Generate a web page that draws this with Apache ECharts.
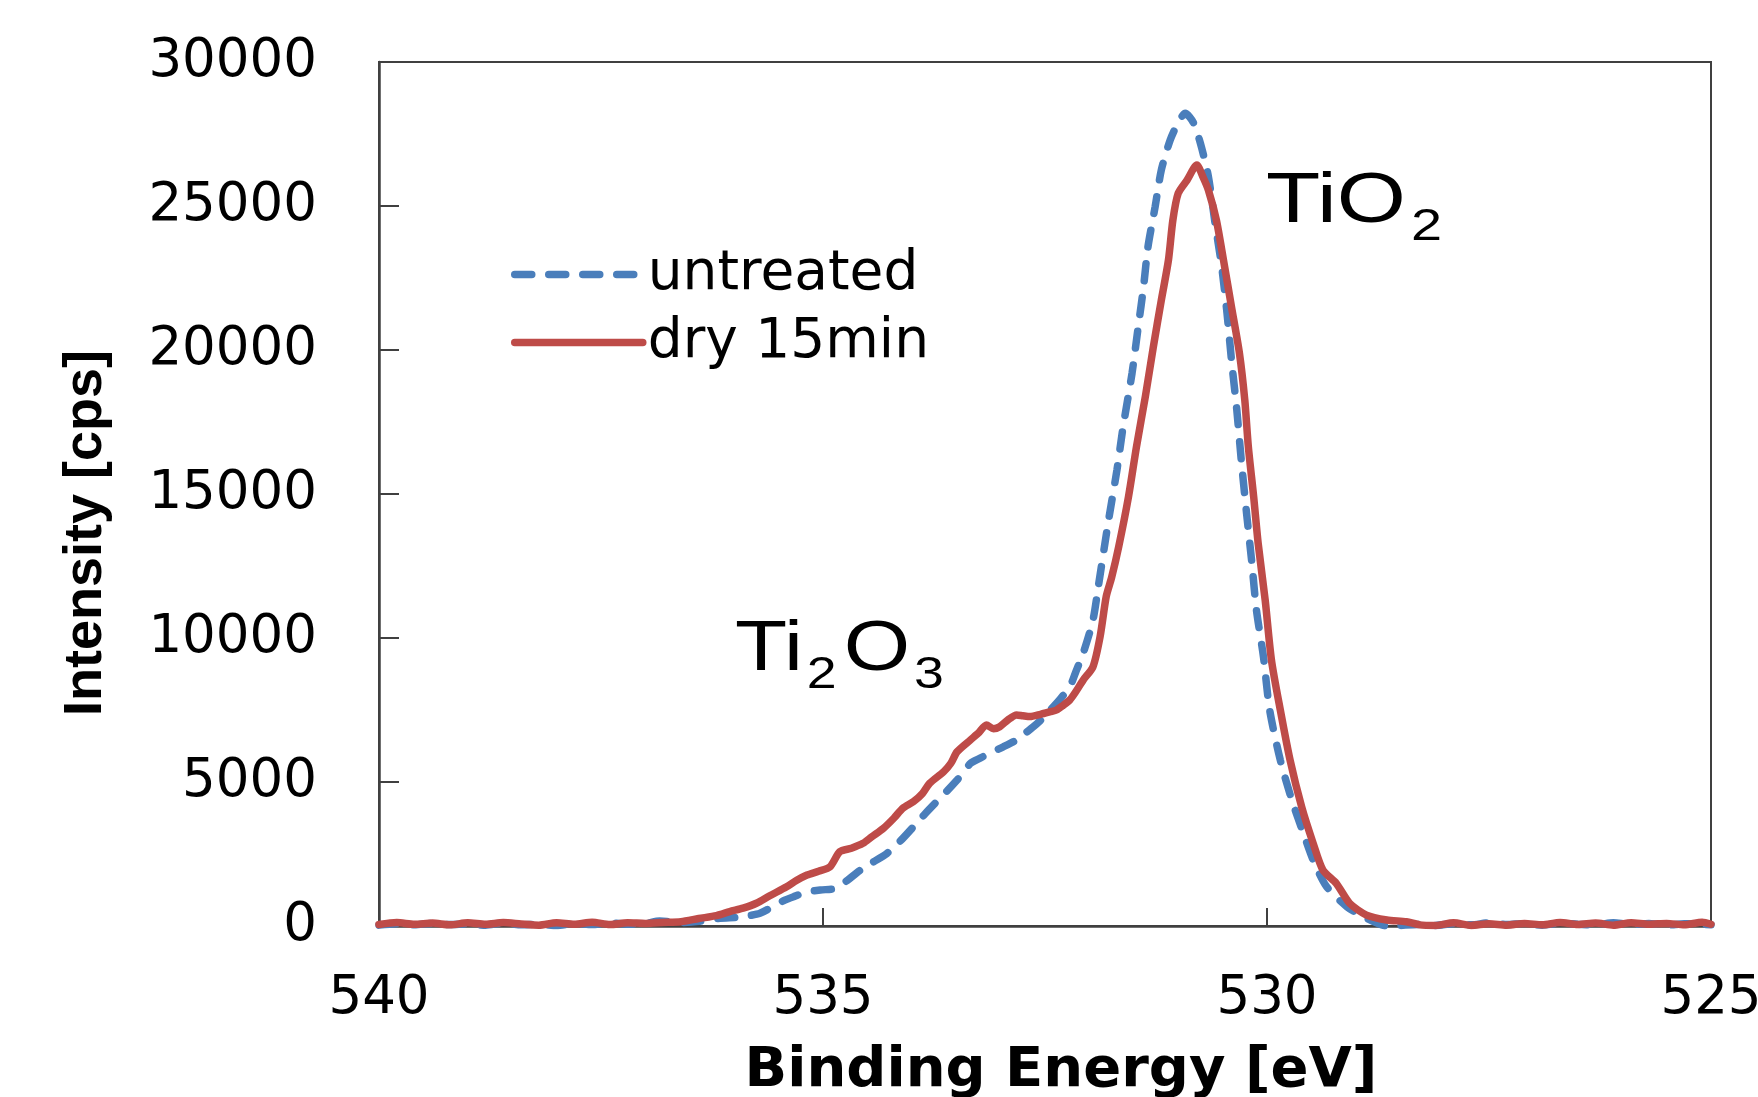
<!DOCTYPE html>
<html>
<head>
<meta charset="utf-8">
<title>O 1s spectrum</title>
<script src="https://cdn.jsdelivr.net/npm/echarts@6.0.0/dist/echarts.min.js"></script>
<style>
	html, body { margin: 0; padding: 0; background: #fff; }
	#chart { width: 1758px; height: 1097px; }
</style>
</head>
<body>
<div id="chart"></div>
<script>
// binding energy [eV] / intensity [cps]
const untreatedEnergy = [
	540.0, 539.8, 539.6, 539.4, 539.2, 539.0, 538.8, 538.6, 538.4, 538.2,
	538.0, 537.8, 537.6, 537.4, 537.2, 537.0, 536.84, 536.6, 536.4, 536.16,
	535.97, 535.85, 535.71, 535.55, 535.43, 535.33, 535.18, 535.03, 534.85, 534.72,
	534.58, 534.43, 534.28, 534.13, 533.98, 533.85, 533.72, 533.6, 533.49, 533.4,
	533.34, 533.23, 533.12, 532.97, 532.82, 532.72, 532.63, 532.53, 532.44, 532.33,
	532.22, 532.15, 532.07, 531.96, 531.9, 531.79, 531.69, 531.62, 531.52, 531.45,
	531.39, 531.34, 531.26, 531.19, 531.09, 531.0, 530.92, 530.83, 530.75, 530.66,
	530.59, 530.51, 530.45, 530.4, 530.34, 530.29, 530.23, 530.17, 530.12, 530.04,
	529.97, 529.85, 529.72, 529.59, 529.48, 529.33, 529.1, 528.88, 528.65, 528.5,
	528.3, 528.1, 527.9, 527.7, 527.5, 527.3, 527.1, 526.9, 526.7, 526.5,
	526.3, 526.1, 525.9, 525.7, 525.5, 525.3, 525.0
];
const untreatedCounts = [
	30, 80, 40, 90, 50, 70, 30, 100, 40, 60,
	20, 90, 50, 110, 60, 90, 170, 120, 160, 270,
	300, 350, 440, 700, 900, 1020, 1180, 1250, 1310, 1600,
	1940, 2230, 2520, 2950, 3450, 3900, 4320, 4700, 5070, 5400,
	5650, 5830, 6000, 6220, 6460, 6700, 6920, 7200, 7500, 7880,
	8310, 8850, 9470, 10620, 11780, 13980, 15830, 17340, 19190, 20810,
	22200, 23590, 24970, 26250, 27290, 27900, 28220, 27900, 27180, 26020,
	24510, 22890, 21270, 19650, 17920, 16180, 14330, 12590, 11000, 9350,
	7500, 5760, 4370, 3220, 2290, 1370, 670, 270, 0, 20,
	50, 20, 80, 40, 110, 50, 90, 30, 100, 60,
	40, 110, 50, 90, 30, 80, 40
];

const dryEnergy = [
	540.0, 539.8, 539.6, 539.4, 539.2, 539.0, 538.8, 538.6, 538.4, 538.2,
	538.0, 537.8, 537.6, 537.4, 537.2, 537.0, 536.8, 536.6, 536.4, 536.2,
	536.05, 535.9, 535.75, 535.6, 535.41, 535.3, 535.18, 535.05, 534.92, 534.81,
	534.68, 534.55, 534.45, 534.32, 534.2, 534.1, 533.98, 533.88, 533.8, 533.64,
	533.56, 533.49, 533.34, 533.25, 533.16, 533.08, 533.01, 532.92, 532.82, 532.75,
	532.67, 532.55, 532.44, 532.37, 532.3, 532.22, 532.15, 532.07, 531.96, 531.88,
	531.81, 531.75, 531.67, 531.56, 531.47, 531.37, 531.28, 531.19, 531.11, 531.06,
	531.0, 530.9, 530.79, 530.72, 530.66, 530.57, 530.49, 530.4, 530.31, 530.25,
	530.21, 530.15, 530.1, 530.02, 529.95, 529.85, 529.74, 529.61, 529.48, 529.37,
	529.22, 529.07, 528.88, 528.65, 528.43, 528.28, 528.1, 527.9, 527.7, 527.5,
	527.3, 527.1, 526.9, 526.7, 526.5, 526.3, 526.1, 525.9, 525.7, 525.5,
	525.3, 525.1, 525.0
];
const dryCounts = [
	50, 120, 60, 100, 40, 110, 60, 120, 70, 30,
	110, 60, 130, 50, 110, 90, 120, 150, 260, 360,
	500, 620, 790, 1050, 1360, 1580, 1770, 1900, 2060, 2580,
	2700, 2870, 3100, 3390, 3750, 4090, 4320, 4600, 4950, 5360,
	5650, 6050, 6460, 6700, 6980, 6850, 6920, 7150, 7330, 7300,
	7270, 7350, 7440, 7500, 7650, 7850, 8150, 8540, 9000, 10040,
	11450, 12100, 13170, 14900, 16640, 18380, 20110, 21730, 23120, 24510,
	25440, 25900, 26420, 26000, 25550, 24510, 23120, 21500, 19880, 18260,
	16640, 14900, 13300, 11300, 9240, 7500, 5760, 4140, 2870, 1940,
	1480, 790, 380, 210, 150, 40, 20, 110, 20, 80,
	30, 90, 40, 120, 50, 100, 30, 110, 60, 90,
	40, 130, 60
];

const seriesNames = ['untreated', 'dry 15min'];

function pairs(xs, ys) {
	return xs.map(function (x, i) { return [x, ys[i]]; });
}

const chart = echarts.init(document.getElementById('chart'));
const axisColor = '#404040';
const option = {
	animation: false,
	backgroundColor: '#fff',
	grid: {
		left: 379,
		right: 47,
		top: 62,
		bottom: 171,
		show: true,
		borderColor: axisColor,
		borderWidth: 2,
		outerBoundsMode: 'none'
	},
	legend: {
		data: seriesNames,
		orient: 'vertical',
		left: 506,
		top: 242,
		itemWidth: 128,
		itemHeight: 14,
		itemGap: 13,
		itemStyle: { opacity: 0 }, // no symbol in the key
		lineStyle: { width: 7.5, cap: 'round' },
		textStyle: {
			fontFamily: 'DejaVu Sans',
			fontSize: 55,
			color: '#000'
		}
	},
	xAxis: {
		type: 'value',
		min: 525,
		max: 540,
		interval: 5,
		inverse: true,
		name: 'Binding Energy [eV]',
		nameLocation: 'middle',
		nameGap: 117,
		nameTextStyle: {
			fontFamily: 'DejaVu Sans',
			fontWeight: 'bold',
			fontSize: 56,
			color: '#000',
			padding: [0, 0, 0, 32]
		},
		axisLine: { lineStyle: { color: axisColor, width: 2.5 } },
		axisTick: { inside: true, length: 18, lineStyle: { color: axisColor, width: 2 } },
		axisLabel: {
			margin: 47,
			fontFamily: 'DejaVu Sans',
			fontSize: 53,
			color: '#000'
		},
		splitLine: { show: false }
	},
	yAxis: {
		type: 'value',
		min: 0,
		max: 30000,
		interval: 5000,
		name: 'Intensity [cps]',
		nameLocation: 'middle',
		nameGap: 266,
		nameTextStyle: {
			fontFamily: 'Liberation Sans',
			fontWeight: 'bold',
			fontSize: 54,
			color: '#000',
			padding: [0, 78, 0, 0]
		},
		axisLine: { show: true, lineStyle: { color: axisColor, width: 2.5 } },
		axisTick: { show: true, inside: true, length: 20, lineStyle: { color: axisColor, width: 2 } },
		axisLabel: {
			margin: 62,
			fontFamily: 'DejaVu Sans',
			fontSize: 53,
			color: '#000',
			formatter: function (v) { return String(v); }
		},
		splitLine: { show: false }
	},
	series: [{
		name: seriesNames[0],
		type: 'line',
		data: pairs(untreatedEnergy, untreatedCounts),
		symbol: 'none',
		smooth: 0.25,
		color: '#4a7ebb',
		lineStyle: {
			color: '#4a7ebb',
			width: 7.5,
			type: [17, 17],
			cap: 'round'
		}
	}, {
		name: seriesNames[1],
		type: 'line',
		data: pairs(dryEnergy, dryCounts),
		symbol: 'none',
		smooth: 0.25,
		color: '#be4b48',
		lineStyle: {
			color: '#be4b48',
			width: 7.5,
			cap: 'round',
			join: 'round'
		}
	}],
	// peak labels
	graphic: [{
		type: 'text',
		x: 1266,
		y: 168,
		scaleX: 1.27,
		style: {
			text: '{a|TiO}{b|2}',
			verticalAlign: 'top',
			fill: '#000',
			rich: {
				a: { fontFamily: 'Liberation Sans', fontSize: 70, lineHeight: 70, verticalAlign: 'bottom' },
				b: { fontFamily: 'Liberation Sans', fontSize: 44, lineHeight: 14, verticalAlign: 'bottom', padding: [0, 0, -12, 4] }
			}
		}
	}, {
		type: 'text',
		x: 735,
		y: 616,
		scaleX: 1.22,
		style: {
			text: '{a|Ti}{b|2}{a|O}{b|3}',
			verticalAlign: 'top',
			fill: '#000',
			rich: {
				a: { fontFamily: 'Liberation Sans', fontSize: 70, lineHeight: 70, verticalAlign: 'bottom' },
				b: { fontFamily: 'Liberation Sans', fontSize: 44, lineHeight: 14, verticalAlign: 'bottom', padding: [0, 6, -12, 3] }
			}
		}
	}]
};
chart.setOption(option);
</script>
</body>
</html>
